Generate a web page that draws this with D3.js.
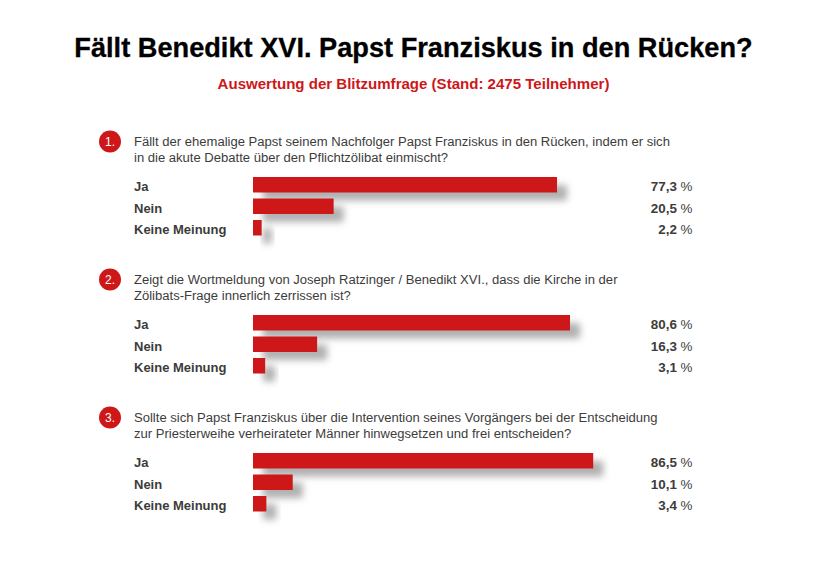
<!DOCTYPE html>
<html>
<head>
  <meta charset="utf-8">
  <script src="https://d3js.org/d3.v7.min.js"></script>
  <style>
    html, body { margin: 0; padding: 0; background: #fff; }
    svg { display: block; }
    text { font-family: "Liberation Sans", Arimo, sans-serif; }
  </style>
</head>
<body>
<script>
  var answers = ["Ja", "Nein", "Keine Meinung"];
  var question1 = ["Fällt der ehemalige Papst seinem Nachfolger Papst Franziskus in den Rücken, indem er sich",
                   "in die akute Debatte über den Pflichtzölibat einmischt?"];
  var question2 = ["Zeigt die Wortmeldung von Joseph Ratzinger / Benedikt XVI., dass die Kirche in der",
                   "Zölibats-Frage innerlich zerrissen ist?"];
  var question3 = ["Sollte sich Papst Franziskus über die Intervention seines Vorgängers bei der Entscheidung",
                   "zur Priesterweihe verheirateter Männer hinwegsetzen und frei entscheiden?"];
  var values1 = [77.3, 20.5, 2.2];
  var values2 = [80.6, 16.3, 3.1];
  var values3 = [86.5, 10.1, 3.4];

  var width = 826, height = 568;
  var red = "#cd1719", grey = "#3c3c3b";

  var svg = d3.select("body").append("svg")
      .attr("width", width)
      .attr("height", height);

  // soft shadow behind the bars
  var blur = svg.append("defs").append("filter")
      .attr("id", "shadow")
      .attr("x", "-30%").attr("y", "-100%")
      .attr("width", "160%").attr("height", "300%");
  blur.append("feGaussianBlur").attr("stdDeviation", 3.8);

  svg.append("text")
      .attr("x", 413.5).attr("y", 57)
      .attr("text-anchor", "middle")
      .attr("font-size", 27.2)
      .attr("font-weight", "bold")
      .attr("fill", "#000")
      .attr("stroke", "#000")
      .attr("stroke-width", 0.3)
      .text("Fällt Benedikt XVI. Papst Franziskus in den Rücken?");

  svg.append("text")
      .attr("x", 413.5).attr("y", 89)
      .attr("text-anchor", "middle")
      .attr("font-size", 15.05)
      .attr("font-weight", "bold")
      .attr("fill", red)
      .text("Auswertung der Blitzumfrage (Stand: 2475 Teilnehmer)");

  var x = d3.scaleLinear().domain([0, 100]).range([253, 646.3]);

  var blocks = [
    {lines: question1, values: values1, top: 0},
    {lines: question2, values: values2, top: 138},
    {lines: question3, values: values3, top: 276}
  ];

  var rowY = d3.scalePoint().domain(answers).range([177, 220]);

  blocks.forEach(function(b, i) {
    var g = svg.append("g").attr("transform", "translate(0," + b.top + ")");

    g.append("circle")
        .attr("cx", 110).attr("cy", 141.5).attr("r", 11)
        .attr("fill", red);
    g.append("text")
        .attr("x", 110).attr("y", 146)
        .attr("text-anchor", "middle")
        .attr("font-size", 12)
        .attr("fill", "#fff")
        .text((i + 1) + ".");

    g.selectAll("text.q").data(b.lines).enter().append("text")
        .attr("class", "q")
        .attr("x", 134)
        .attr("y", function(d, j) { return 146 + j * 16; })
        .attr("font-size", 13.05)
        .attr("fill", grey)
        .text(function(d) { return d; });

    var rows = answers.map(function(a, j) { return {label: a, value: b.values[j]}; });

    g.selectAll("rect.shadow").data(rows).enter().append("rect")
        .attr("class", "shadow")
        .attr("x", x(0) + 10)
        .attr("y", function(d) { return rowY(d.label) + 8; })
        .attr("width", function(d) { return x(d.value) - x(0); })
        .attr("height", 15.5)
        .attr("fill", "#b0b0b0")
        .attr("filter", "url(#shadow)");

    g.selectAll("rect.bar").data(rows).enter().append("rect")
        .attr("class", "bar")
        .attr("x", x(0))
        .attr("y", function(d) { return rowY(d.label); })
        .attr("width", function(d) { return x(d.value) - x(0); })
        .attr("height", 15.5)
        .attr("fill", red);

    g.selectAll("text.label").data(rows).enter().append("text")
        .attr("class", "label")
        .attr("x", 134)
        .attr("y", function(d) { return rowY(d.label) + 14; })
        .attr("font-size", 13)
        .attr("font-weight", "bold")
        .attr("fill", grey)
        .text(function(d) { return d.label; });

    var vals = g.selectAll("text.val").data(rows).enter().append("text")
        .attr("class", "val")
        .attr("x", 692.5)
        .attr("y", function(d) { return rowY(d.label) + 14; })
        .attr("text-anchor", "end")
        .attr("font-size", 13.4)
        .attr("font-weight", "bold")
        .attr("fill", grey);
    vals.append("tspan").text(function(d) { return String(d.value).replace(".", ",") + " "; });
    vals.append("tspan").attr("font-weight", "normal").text("%");
  });
</script>
</body>
</html>
